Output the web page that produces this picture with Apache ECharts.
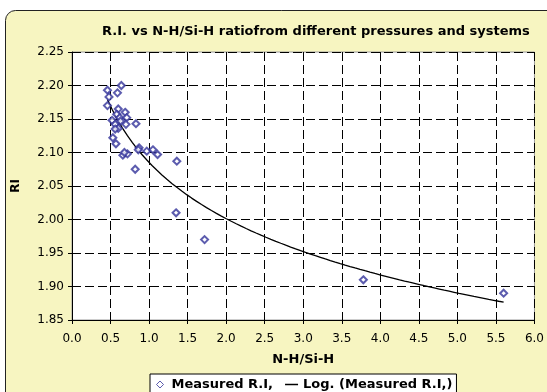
<!DOCTYPE html>
<html>
<head>
<meta charset="utf-8">
<script src="https://cdn.jsdelivr.net/npm/echarts@6/dist/echarts.min.js"></script>
<style>
  html, body { margin: 0; padding: 0; background: #fff; }
  #chart { width: 547px; height: 392px; }
</style>
</head>
<body>
<div id="chart"></div>
<script>
// N-H/Si-H ratio (x) and measured refractive index (y)
var ratio = [0.46, 0.48, 0.64, 0.59, 0.46, 0.60, 0.69, 0.58, 0.52, 0.62, 0.71, 0.56,
  0.60, 0.70, 0.83, 0.53, 0.57, 0.66, 0.72, 0.68, 0.87, 0.86, 0.97, 1.05, 1.11,
  0.82, 1.36, 1.35, 1.72, 3.78, 5.60, 0.63, 0.56]
var ri = [2.193, 2.183, 2.200, 2.189, 2.170, 2.165, 2.160, 2.157, 2.148, 2.152, 2.152, 2.142,
  2.136, 2.142, 2.143, 2.122, 2.113, 2.096, 2.098, 2.100, 2.107, 2.104, 2.102, 2.104, 2.097,
  2.075, 2.087, 2.010, 1.970, 1.910, 1.890, 2.147, 2.135]

var xTicks = { min: 0, max: 6, step: 0.5 }
var yTicks = { min: 1.85, max: 2.25, step: 0.05 }

// logarithmic trendline y = a + b ln(x), least squares like the spreadsheet does
function logFit (xs, ys) {
  var n = xs.length
  var lx = xs.map(function (v) { return Math.log(v) })
  var mx = lx.reduce(function (s, v) { return s + v }, 0) / n
  var my = ys.reduce(function (s, v) { return s + v }, 0) / n
  var sxy = 0
  var sxx = 0
  for (var i = 0; i < n; i++) {
    sxy += (lx[i] - mx) * (ys[i] - my)
    sxx += (lx[i] - mx) * (lx[i] - mx)
  }
  var b = sxy / sxx
  return { a: my - b * mx, b: b }
}

var fit = logFit(ratio, ri)
var xLo = Math.min.apply(null, ratio)
var xHi = Math.max.apply(null, ratio)
var trend = []
for (var k = 0; k <= 80; k++) {
  var xv = xLo + (xHi - xLo) * k / 80
  trend.push([xv, fit.a + fit.b * Math.log(xv)])
}

var points = ratio.map(function (v, i) { return [v, ri[i]] })

var font = 'DejaVu Sans, Verdana, sans-serif'
var gridLine = { show: true, lineStyle: { color: '#000', type: [9, 4], width: 1 } }
var boldText = { fontFamily: font, fontSize: 13, fontWeight: 'bold', color: '#000' }

var myChart = echarts.init(document.getElementById('chart'))
var option = {
  animation: false,
  backgroundColor: '#fff',
  graphic: [
    {
      type: 'rect',
      z: -10,
      shape: { x: 5.5, y: 10.5, width: 600, height: 500, r: 10 },
      style: { fill: '#f7f5c1', stroke: '#222', lineWidth: 1 }
    }
  ],
  title: {
    text: 'R.I. vs N-H/Si-H ratiofrom different pressures and systems',
    left: 97,
    top: 20,
    textStyle: boldText
  },
  grid: {
    left: 72,
    right: 12,
    top: 52,
    bottom: 72,
    show: true,
    backgroundColor: '#fff',
    borderColor: '#9a9a9a',
    borderWidth: 1
  },
  legend: {
    left: 150,
    top: 374,
    orient: 'horizontal',
    padding: [4, 4, 8, 6],
    itemGap: 12,
    itemWidth: 13,
    itemHeight: 7,
    symbolKeepAspect: true,
    borderColor: '#000',
    borderWidth: 1,
    borderRadius: 0,
    backgroundColor: '#fff',
    textStyle: boldText,
    data: [
      {
        name: 'Measured R.I,',
        icon: 'path://M5,0L10,5L5,10L0,5Z',
        itemStyle: { color: '#fff', borderColor: '#33339a', borderWidth: 1 }
      },
      {
        name: 'Log. (Measured R.I,)',
        icon: 'path://M0,0H26V3H0Z',
        itemStyle: { color: '#000', borderWidth: 0 }
      }
    ]
  },
  xAxis: {
    type: 'value',
    min: xTicks.min,
    max: xTicks.max,
    interval: xTicks.step,
    name: 'N-H/Si-H',
    nameLocation: 'middle',
    nameGap: 33,
    nameTextStyle: boldText,
    axisLine: { show: true, onZero: false, lineStyle: { color: '#000', width: 1 } },
    axisTick: { show: true, length: 4, inside: false, lineStyle: { color: '#000' } },
    axisLabel: {
      fontFamily: font, fontSize: 12, color: '#000', margin: 13,
      formatter: function (v) { return v.toFixed(1) }
    },
    splitLine: gridLine
  },
  yAxis: {
    type: 'value',
    min: yTicks.min,
    max: yTicks.max,
    interval: yTicks.step,
    name: 'RI',
    nameLocation: 'middle',
    nameRotate: 90,
    nameGap: 50,
    nameTextStyle: { fontFamily: font, fontSize: 12, fontWeight: 'bold', color: '#000' },
    axisLine: { show: true, lineStyle: { color: '#000', width: 1 } },
    axisTick: { show: true, length: 4, lineStyle: { color: '#000' } },
    axisLabel: {
      fontFamily: font, fontSize: 12, color: '#000', margin: 8,
      formatter: function (v) { return v.toFixed(2) }
    },
    splitLine: gridLine
  },
  series: [
    {
      name: 'Measured R.I,',
      type: 'scatter',
      symbol: 'emptyDiamond',
      symbolSize: 7,
      itemStyle: { color: '#33339a', borderColor: '#33339a', borderWidth: 1 },
      data: points,
      z: 3
    },
    {
      name: 'Log. (Measured R.I,)',
      type: 'line',
      showSymbol: false,
      symbol: 'none',
      lineStyle: { color: '#000', width: 1.3 },
      itemStyle: { color: '#000' },
      data: trend,
      z: 2
    }
  ]
}
myChart.setOption(option)
</script>
</body>
</html>
